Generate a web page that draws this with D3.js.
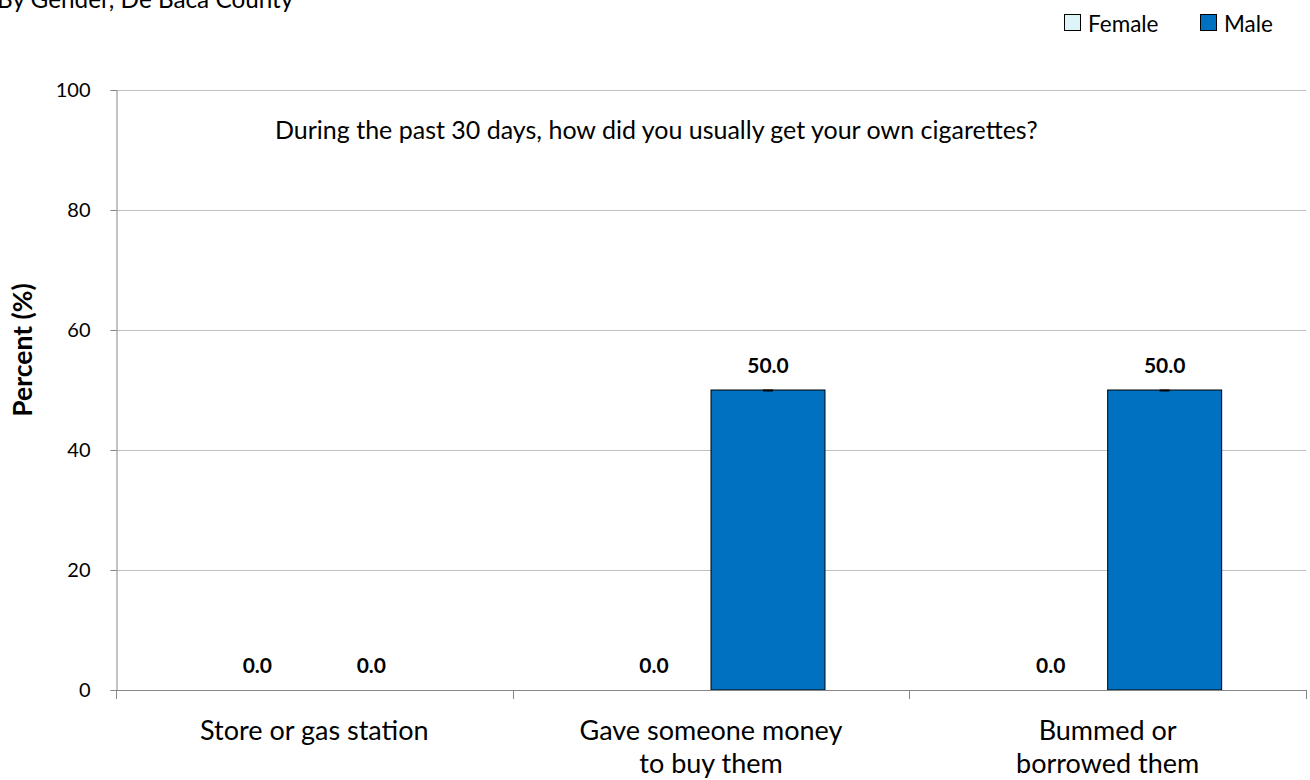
<!DOCTYPE html>
<html><head><meta charset="utf-8">
<script src="https://cdn.jsdelivr.net/npm/d3@7"></script>
<style>body{margin:0;background:#fff;} text{font-family:Lato,"Open Sans",sans-serif;}</style>
</head><body>
<svg id="c" width="1310" height="780"></svg>
<script>
const categories = [["Store or gas station"], ["Gave someone money", "to buy them"], ["Bummed or", "borrowed them"]];
const seriesNames = ["Female", "Male"];
const femaleValues = [0.0, 0.0, 0.0];
const maleValues = [0.0, 50.0, 50.0];
const yTicks = [0, 20, 40, 60, 80, 100];
const colors = {Female: "#DDF4F8", Male: "#0070C0"};
const titleText = "By Gender, De Baca County";
const questionText = "During the past 30 days, how did you usually get your own cigarettes?";

(function () {
const svg = d3.select("#c");
const mL = 116, mR = 1306, mT = 90, mB = 690;
const y = d3.scaleLinear().domain([0, 100]).range([mB, mT]);
const x0 = d3.scaleBand().domain(d3.range(categories.length)).range([mL, mR]).paddingInner(0).paddingOuter(0);
const x1 = d3.scaleBand().domain(seriesNames).range([0, x0.bandwidth()]).paddingInner(0).paddingOuter(0.74);

svg.append("text").attr("x", -3).attr("y", 8).attr("font-size", 24.3).attr("fill", "#000").text(titleText);

svg.append("g").selectAll("line").data(yTicks.filter(d => d > 0)).join("line")
  .attr("x1", mL).attr("x2", mR).attr("y1", d => y(d) + 0.5).attr("y2", d => y(d) + 0.5)
  .attr("stroke", "#c0c0c0").attr("stroke-width", 1);

const yAxis = svg.append("g").attr("transform", `translate(${mL + 0.5},0)`)
  .call(d3.axisLeft(y).tickValues(yTicks).tickSize(6).tickPadding(20).tickFormat(d3.format("d")));
yAxis.select(".domain").attr("stroke", "#868686");
yAxis.selectAll(".tick line").attr("stroke", "#868686");
yAxis.selectAll(".tick text").attr("font-size", 20).attr("fill", "#000").attr("font-family", "Lato, sans-serif");

svg.append("text").attr("transform", `translate(32,350) rotate(-90)`)
  .attr("text-anchor", "middle").attr("font-size", 26.5).attr("font-weight", "bold").text("Percent (%)");

svg.append("text").attr("x", 275).attr("y", 139).attr("font-size", 25).text(questionText);

const data = [];
categories.forEach((c, i) => {
  data.push({i, s: "Female", v: femaleValues[i]});
  data.push({i, s: "Male", v: maleValues[i]});
});
const g = svg.append("g");
g.selectAll("rect").data(data).join("rect")
  .attr("x", d => x0(d.i) + x1(d.s)).attr("width", x1.bandwidth())
  .attr("y", d => y(d.v)).attr("height", d => y(0) - y(d.v))
  .attr("fill", d => colors[d.s]).attr("stroke", d => d.v > 0 ? "#000" : "none").attr("stroke-width", 1);

g.selectAll("line.cap").data(data).join("line").attr("class", "cap")
  .attr("x1", d => x0(d.i) + x1(d.s) + x1.bandwidth() / 2 - 5)
  .attr("x2", d => x0(d.i) + x1(d.s) + x1.bandwidth() / 2 + 5)
  .attr("y1", d => y(d.v) + 0.5).attr("y2", d => y(d.v) + 0.5)
  .attr("stroke", d => d.v > 0 ? "#000" : "#a6a6a6").attr("stroke-width", d => d.v > 0 ? 2 : 1);

g.selectAll("text.val").data(data.filter(d => !(d.s === "Male" && d.v === 0 && d.i > 0))).join("text").attr("class", "val")
  .attr("x", d => x0(d.i) + x1(d.s) + x1.bandwidth() / 2)
  .attr("y", d => y(d.v) - 17).attr("text-anchor", "middle")
  .attr("font-size", 21).attr("font-weight", "bold")
  .text(d => d3.format(".1f")(d.v));

const xAxisG = svg.append("g");
xAxisG.append("line").attr("x1", mL).attr("x2", mR).attr("y1", mB + 0.5).attr("y2", mB + 0.5).attr("stroke", "#868686");
const bounds = d3.range(categories.length + 1).map(i => i < categories.length ? x0(i) : x0(i - 1) + x0.bandwidth());
xAxisG.selectAll("line.t").data(bounds).join("line").attr("class", "t")
  .attr("x1", d => Math.round(d) + 0.5).attr("x2", d => Math.round(d) + 0.5)
  .attr("y1", mB).attr("y2", mB + 9).attr("stroke", "#868686");
categories.forEach((lines, i) => {
  const cx = x0(i) + x0.bandwidth() / 2;
  const t = xAxisG.append("text").attr("x", cx).attr("y", 740)
    .attr("text-anchor", "middle").attr("font-size", 27);
  lines.forEach((l, k) => t.append("tspan").attr("x", cx).attr("dy", k === 0 ? 0 : 33).text(l));
});

const legend = [{s: "Female", x: 1064}, {s: "Male", x: 1200}];
const lg = svg.append("g");
legend.forEach(l => {
  lg.append("rect").attr("x", l.x + 0.5).attr("y", 14.5).attr("width", 16).attr("height", 16)
    .attr("fill", colors[l.s]).attr("stroke", "#000").attr("stroke-width", 1);
  lg.append("text").attr("x", l.x + 24).attr("y", 32).attr("font-size", 22.5).text(l.s);
});
})();
</script>
</body></html>
